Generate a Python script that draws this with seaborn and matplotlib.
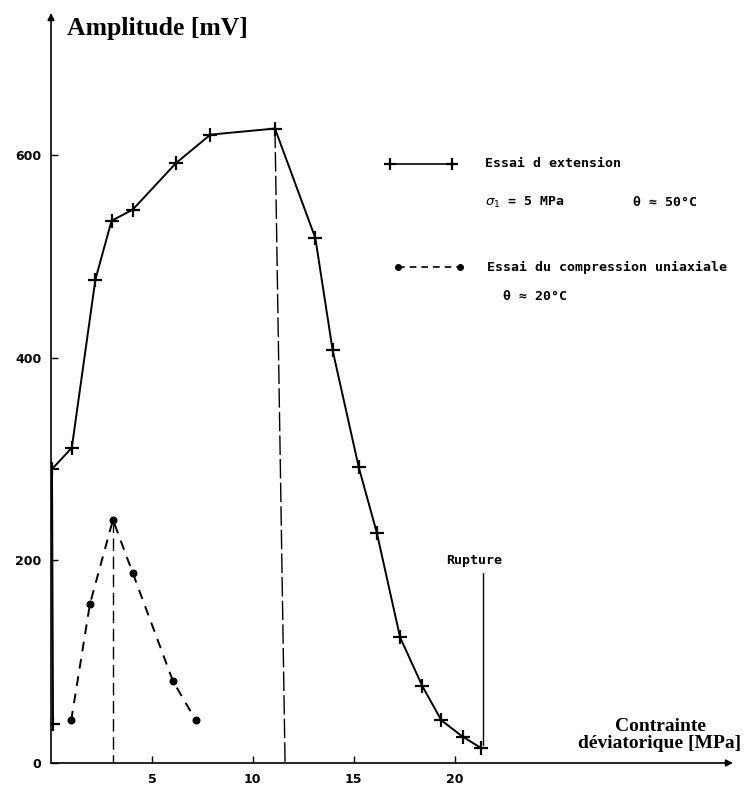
import matplotlib
matplotlib.use("Agg")
import matplotlib.pyplot as plt
import numpy as np
import pandas as pd
import seaborn as sns

sns.set_theme(style="white")
plt.rcParams["font.family"] = ["DejaVu Sans"]
plt.rcParams["text.color"] = "black"
plt.rcParams["xtick.color"] = "black"
plt.rcParams["ytick.color"] = "black"

# Essai d'extension (sigma1 = 5 MPa, theta = 50 C)
ext_x = [0.1, 0.05, 1.03, 2.2, 3.0, 4.05, 6.2, 7.9, 11.1, 13.1, 13.96, 15.25,
         16.15, 17.3, 18.4, 19.35, 20.4, 21.3]
ext_y = [38, 290, 311, 477, 535, 546, 592, 620, 626, 518, 407, 292,
         227, 124, 76, 42, 26, 15]

# Essai de compression uniaxiale (theta = 20 C)
comp_x = [1.0, 1.93, 3.07, 4.06, 6.04, 7.18]
comp_y = [42, 157, 240, 187, 81, 42]

# guide lines (peak markers and rupture)
peak_ext_x = [11.1, 11.6]
peak_ext_y = [626, 0]
peak_comp_x = [3.07, 3.07]
peak_comp_y = [240, 0]
rupture_x = [21.4, 21.4]
rupture_y = [187, 18]

x_ticks = [5, 10, 15, 20]
y_ticks = [0, 200, 400, 600]

ext = pd.DataFrame({"x": ext_x, "y": ext_y})
comp = pd.DataFrame({"x": comp_x, "y": comp_y})

fig = plt.figure(figsize=(7.51, 7.87), dpi=100)
ax = fig.add_axes([51 / 751, 24 / 787, 682 / 751, 750 / 787])
ax.set_xlim(0, 33.8)
ax.set_ylim(0, 740)

sns.lineplot(data=ext, x="x", y="y", sort=False, estimator=None, ax=ax,
             color="black", lw=1.4, marker="+", markersize=10, mew=1.6,
             mec="black")
sns.lineplot(data=comp, x="x", y="y", sort=False, estimator=None, ax=ax,
             color="black", lw=1.4, marker="o", markersize=5, mec="black",
             dashes=(5, 4))

ax.plot(peak_ext_x, peak_ext_y, color="black", lw=1.0, dashes=(14, 3))
ax.plot(peak_comp_x, peak_comp_y, color="black", lw=1.0, dashes=(9, 4))
ax.plot(rupture_x, rupture_y, color="black", lw=1.0)
ax.text(19.6, 200, "Rupture", fontsize=9.5, fontweight="bold",
        family="DejaVu Sans Mono", va="center")

# axes with arrows, no frame
for s in ax.spines.values():
    s.set_visible(False)
ax.annotate("", xy=(1, 0), xycoords="axes fraction", xytext=(0, 0),
            arrowprops=dict(arrowstyle="-|>", color="black", lw=1.2,
                            mutation_scale=10, shrinkA=0, shrinkB=0))
ax.annotate("", xy=(0, 1), xycoords="axes fraction", xytext=(0, 0),
            arrowprops=dict(arrowstyle="-|>", color="black", lw=1.2,
                            mutation_scale=10, shrinkA=0, shrinkB=0))

ax.set_xticks(x_ticks)
ax.set_yticks(y_ticks)
ax.set_xticklabels([str(t) for t in x_ticks])
ax.set_yticklabels([str(t) for t in y_ticks])
ax.tick_params(axis="both", direction="in", length=5, width=1, color="black",
               labelsize=9, pad=7)
ax.tick_params(axis="y", left=True)
ax.tick_params(axis="x", bottom=True)
for lab in ax.get_xticklabels() + ax.get_yticklabels():
    lab.set_fontweight("bold")
ax.set_xlabel("")
ax.set_ylabel("")
ax.grid(False)

# legend drawn by hand
tr = ax.transAxes
ax.plot([0.497, 0.588], [0.799, 0.799], transform=tr, color="black", lw=1.2,
        marker="+", markersize=8, mew=1.6)
ax.plot([0.509, 0.600], [0.661, 0.661], transform=tr, color="black", lw=1.2,
        marker="o", markersize=4, dashes=(4, 3))
leg_font = dict(fontsize=9.5, fontweight="bold", family="DejaVu Sans Mono",
                va="center", transform=tr)
ax.text(0.636, 0.799, "Essai d extension", **leg_font)
ax.text(0.636, 0.747, r"$\sigma_1$ = 5 MPa", **leg_font)
ax.text(0.853, 0.747, "θ ≈ 50°C", **leg_font)
ax.text(0.639, 0.661, "Essai du compression uniaxiale", **leg_font)
ax.text(0.663, 0.622, "θ ≈ 20°C", **leg_font)

fig.text(67 / 751, 1 - 29 / 787, "Amplitude [mV]", family="Liberation Serif",
         fontweight="bold", fontsize=18.5, va="center", ha="left")
fig.text(660 / 751, 1 - 735 / 787, "Contrainte\ndéviatorique [MPa]",
         family="Liberation Serif", fontweight="bold", fontsize=14,
         va="center", ha="center", multialignment="center", linespacing=1.05)

fig.savefig("out.png", dpi=100)
